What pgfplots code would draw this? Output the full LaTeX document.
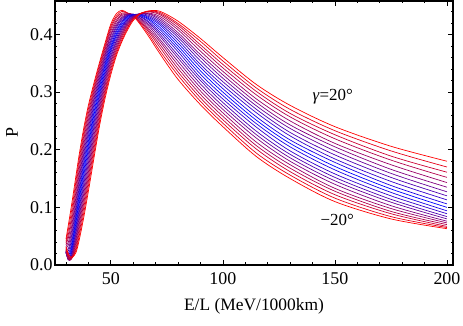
\documentclass[border=0pt]{standalone}
\usepackage{fontspec}
\setmainfont{Liberation Serif}
\usepackage{pgfplots}
\pgfplotsset{compat=1.18}
\usepackage{pgfplotstable}

% P versus E/L, one column per gamma: c0 = -20 deg ... c10 = 0 ... c20 = +20 deg (step 2 deg)
\pgfplotstableread{
x    c0   c1   c2   c3   c4   c5   c6   c7   c8   c9   c10  c11  c12  c13  c14  c15  c16  c17  c18  c19  c20
30   .045 .041 .038 .035 .032 .029 .027 .025 .024 .023 .022 .022 .021 .022 .022 .023 .024 .026 .027 .030 .032
31   .068 .060 .052 .046 .039 .034 .028 .024 .020 .017 .014 .012 .010 .010 .009 .010 .010 .012 .014 .017 .020
32   .092 .082 .072 .064 .055 .048 .041 .035 .029 .024 .020 .016 .014 .011 .010 .009 .009 .009 .010 .012 .014
33   .117 .107 .097 .088 .079 .071 .063 .056 .049 .043 .038 .033 .029 .025 .022 .019 .017 .015 .014 .014 .014
34.5 .156 .147 .138 .129 .120 .112 .104 .096 .089 .082 .075 .068 .062 .056 .050 .045 .040 .035 .030 .026 .022
36   .194 .186 .178 .169 .161 .153 .146 .138 .130 .123 .115 .108 .100 .093 .086 .079 .072 .065 .058 .052 .045
38   .239 .232 .225 .218 .210 .203 .195 .188 .180 .173 .165 .157 .149 .141 .133 .125 .117 .109 .101 .092 .084
40   .277 .271 .264 .258 .251 .244 .237 .230 .223 .215 .208 .201 .193 .185 .177 .169 .161 .153 .145 .137 .128
42.5 .316 .311 .306 .301 .296 .290 .285 .279 .273 .266 .260 .253 .247 .240 .233 .225 .218 .210 .202 .194 .186
45   .352 .348 .343 .339 .334 .329 .324 .319 .314 .309 .303 .297 .292 .286 .280 .274 .268 .262 .255 .249 .242
47.5 .386 .382 .378 .374 .369 .365 .361 .356 .351 .347 .342 .337 .332 .327 .322 .317 .312 .306 .301 .296 .290
50   .418 .414 .410 .406 .401 .398 .393 .389 .385 .380 .376 .372 .368 .363 .359 .354 .350 .345 .340 .335 .330
52.5 .436 .432 .429 .425 .422 .418 .415 .412 .408 .405 .401 .398 .394 .390 .387 .383 .379 .375 .371 .367 .363
55   .442 .440 .437 .435 .433 .430 .428 .426 .423 .421 .418 .415 .413 .410 .407 .404 .401 .398 .395 .391 .388
57.5 .437 .437 .437 .436 .435 .435 .434 .433 .432 .431 .429 .427 .426 .424 .422 .420 .418 .416 .413 .411 .408
60   .432 .433 .433 .434 .434 .435 .435 .435 .435 .434 .434 .434 .433 .432 .431 .431 .429 .428 .427 .426 .424
63   .418 .420 .422 .424 .426 .428 .429 .431 .432 .433 .434 .435 .435 .436 .436 .436 .436 .436 .436 .436 .435
67   .396 .400 .404 .407 .410 .414 .417 .420 .422 .425 .427 .429 .431 .433 .435 .436 .437 .439 .440 .440 .441
72   .366 .371 .377 .382 .387 .391 .396 .400 .404 .408 .412 .416 .419 .422 .425 .428 .431 .434 .436 .438 .440
80   .322 .329 .335 .341 .347 .353 .359 .364 .370 .375 .380 .385 .390 .395 .399 .403 .408 .412 .416 .419 .423
90   .278 .284 .290 .296 .302 .308 .314 .320 .325 .331 .337 .343 .348 .354 .360 .365 .371 .377 .382 .388 .393
100  .240 .246 .252 .258 .264 .270 .276 .282 .288 .294 .300 .306 .312 .318 .324 .330 .336 .342 .348 .354 .360
115  .188 .194 .201 .207 .213 .220 .226 .232 .239 .245 .251 .257 .264 .270 .276 .282 .288 .295 .301 .307 .313
130  .150 .156 .162 .168 .174 .180 .186 .192 .198 .205 .211 .217 .224 .230 .237 .243 .250 .257 .263 .270 .277
150  .110 .116 .122 .128 .133 .140 .146 .152 .158 .165 .171 .178 .184 .191 .198 .205 .211 .219 .226 .233 .240
175  .080 .084 .089 .093 .098 .103 .109 .114 .120 .126 .132 .138 .145 .152 .159 .166 .174 .182 .189 .198 .206
200  .063 .065 .067 .070 .073 .076 .080 .084 .089 .094 .100 .106 .113 .120 .127 .135 .143 .152 .161 .170 .180
}\datatable

\begin{document}
\begin{tikzpicture}
\path[use as bounding box] (-55bp,-61bp) rectangle (408bp,265bp);
\begin{axis}[
    at={(0,0)}, anchor=south west,
    scale only axis, width=398bp, height=264bp,
    xmin=25.1, xmax=202.7, ymin=0, ymax=0.458,
    xtick={50,100,150,200},
    minor xtick={30,40,...,200},
    ytick={0,0.1,0.2,0.3,0.4},
    minor ytick={0.02,0.04,...,0.45},
    tick align=inside,
    major tick length=5bp, minor tick length=2.5bp,
    axis line style={line width=1.3pt},
    every tick/.style={black, line width=0.7pt},
    /pgf/number format/assume math mode=true,
    yticklabel style={/pgf/number format/fixed, /pgf/number format/fixed zerofill,
        /pgf/number format/precision=1, xshift=1bp},
    tick label style={font=\fontsize{18}{20}\selectfont},
    xticklabel style={yshift=-4bp},
    xlabel={E/L (MeV/1000km)},
    ylabel={P},
    every axis x label/.style={at={(axis description cs:0.5,-0.155)}, anchor=center,
        font=\fontsize{17.5}{20}\selectfont},
    every axis y label/.style={at={(axis description cs:-0.108,0.5)}, anchor=center,
        rotate=90, font=\fontsize{18}{20}\selectfont},
]
\foreach \i in {0,...,20}{
  \pgfmathtruncatemacro\r{abs(\i-10)*10}
  \edef\tmp{\noexpand\addplot[smooth, line width=0.7pt, color=red!\r!blue] table[x=x, y=c\i] {\noexpand\datatable};}
  \tmp
}
\node[font=\fontsize{17}{19}\selectfont] at (axis cs:149,0.292) {\textit{γ}=20°};
\node[font=\fontsize{17}{19}\selectfont] at (axis cs:151,0.079) {−20°};
\end{axis}
\end{tikzpicture}
\end{document}
